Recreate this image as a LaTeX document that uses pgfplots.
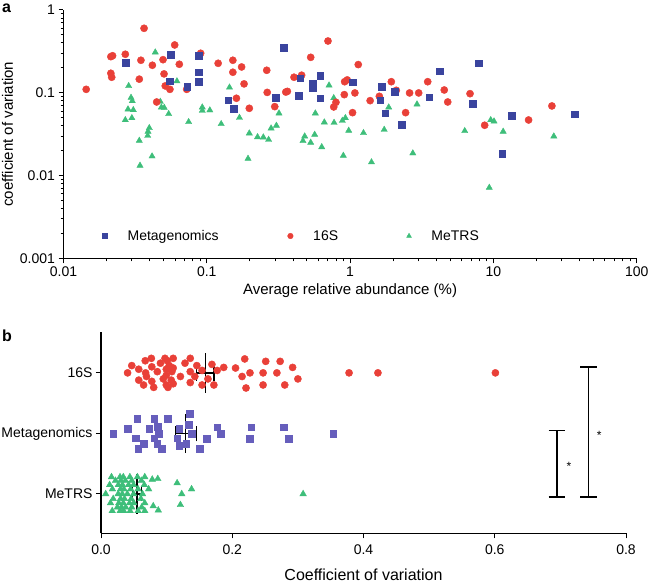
\documentclass[border=0pt]{standalone}
\usepackage{pgfplots}
\pgfplotsset{compat=1.18}
\usepackage{fontspec}
\setmainfont{Liberation Sans}
\definecolor{cblue}{RGB}{58,68,158}
\definecolor{cred}{RGB}{233,64,56}
\definecolor{cgreen}{RGB}{62,190,122}
\definecolor{cpurple}{RGB}{102,94,188}
\newcommand{\fs}{\fontsize{14bp}{16.8bp}\selectfont}
\newcommand{\fl}{\fontsize{15bp}{18bp}\selectfont}
\pgfplotsset{
  myaxis/.style={
    scale only axis,
    axis lines*=left,
    axis line style={line width=1.2bp, black},
    tick style={line width=1bp, black},
    tick align=outside,
    major tick length=5bp, minor tick length=3bp,
    tick label style={font=\fs},
    label style={font=\fl},
    clip=false,
  }
}
\begin{document}
\begin{tikzpicture}[font=\fs]
\useasboundingbox (0,0) rectangle (648bp,584bp);
\node[anchor=base west, font=\fontsize{16bp}{18bp}\selectfont\bfseries, inner sep=0pt] at (2bp,571bp) {a};
\node[anchor=base west, font=\fontsize{16bp}{18bp}\selectfont\bfseries, inner sep=0pt] at (2bp,242bp) {b};
\begin{axis}[myaxis,
  at={(63.5bp,325.7bp)}, anchor=south west,
  width=573.2bp, height=248.3bp,
  xmode=log, ymode=log,
  xmin=0.01, xmax=100, ymin=0.001, ymax=1,
  xtick={0.01,0.1,1,10,100}, xticklabels={0.01,0.1,1,10,100},
  ytick={0.001,0.01,0.1,1}, yticklabels={0.001,0.01,0.1,1},
  minor xtick={0.02,0.03,0.04,0.05,0.06,0.07,0.08,0.09,0.2,0.3,0.4,0.5,0.6,0.7,0.8,0.9,2,3,4,5,6,7,8,9,20,30,40,50,60,70,80,90},
  minor ytick={0.002,0.003,0.004,0.005,0.006,0.007,0.008,0.009,0.02,0.03,0.04,0.05,0.06,0.07,0.08,0.09,0.2,0.3,0.4,0.5,0.6,0.7,0.8,0.9},
  xlabel={Average relative abundance (\%)},
  ylabel={coefficient of variation},
  legend image code/.code={\draw[#1] plot coordinates {(0bp,0bp)};},
  legend style={at={(0.0679,0.0898)}, anchor=west, draw=none, fill=none,
    inner sep=0pt, outer sep=0pt, legend columns=3, font=\fs,
    nodes={inner sep=0pt}, cells={anchor=west},
    /tikz/every odd column/.append style={column sep=20bp}},
]
\addplot[only marks, mark=triangle*, mark size=3.6bp, color=cgreen, forget plot] coordinates {
(0.0285,0.121)(0.0296,0.0873)(0.0302,0.0796)(0.0282,0.0632)(0.0307,0.0620)(0.0270,0.0469)(0.0300,0.0496)(0.0437,0.308)(0.0397,0.0376)(0.0389,0.0340)(0.0387,0.0303)(0.0338,0.0264)(0.0415,0.0171)(0.0342,0.0132)(0.0474,0.0781)(0.0482,0.0667)(0.0505,0.0660)(0.0542,0.0555)(0.0619,0.138)(0.0747,0.0444)(0.0930,0.0667)(0.0930,0.0608)(0.105,0.0615)(0.126,0.0420)(0.144,0.116)(0.169,0.0500)(0.198,0.0324)(0.194,0.0160)(0.226,0.0292)(0.248,0.0290)(0.270,0.0271)(0.281,0.0372)(0.306,0.0401)(0.319,0.0565)(0.482,0.0298)(0.469,0.0262)(0.531,0.0250)(0.566,0.0312)(0.572,0.0565)(0.634,0.0221)(0.661,0.0440)(0.713,0.123)(0.769,0.0865)(0.773,0.0435)(0.883,0.0460)(0.927,0.0496)(0.897,0.0174)(0.978,0.0349)(1.24,0.0327)(1.41,0.0145)(1.73,0.0358)(1.86,0.0667)(2.74,0.0186)(2.93,0.0726)(6.31,0.0346)(9.58,0.0469)(10.1,0.0452)(11.7,0.0340)(9.36,0.00714)(26.4,0.0298)
};
\addplot[only marks, mark=*, mark size=3.6bp, color=cred, forget plot] coordinates {
(0.0144,0.110)(0.0214,0.273)(0.0220,0.280)(0.0214,0.172)(0.0217,0.154)(0.0270,0.292)(0.0338,0.146)(0.0347,0.247)(0.0365,0.601)(0.0417,0.215)(0.0447,0.0774)(0.0495,0.251)(0.0503,0.169)(0.0513,0.121)(0.0553,0.110)(0.0597,0.378)(0.0643,0.221)(0.0724,0.110)(0.0906,0.300)(0.120,0.227)(0.152,0.247)(0.152,0.177)(0.161,0.0858)(0.175,0.205)(0.182,0.128)(0.198,0.0649)(0.262,0.187)(0.264,0.101)(0.298,0.0680)(0.356,0.102)(0.365,0.104)(0.406,0.154)(0.459,0.163)(0.531,0.268)(0.701,0.422)(1.14,0.219)(0.916,0.136)(0.955,0.143)(0.911,0.0949)(1.08,0.0995)(0.797,0.0767)(0.769,0.0674)(1.04,0.0575)(1.38,0.0803)(1.60,0.0906)(1.94,0.136)(2.10,0.107)(2.60,0.0995)(3.01,0.0995)(2.44,0.0575)(3.48,0.136)(4.54,0.108)(4.80,0.0774)(6.87,0.0975)(8.69,0.0405)(17.6,0.0469)(25.6,0.0693)
};
\addplot[only marks, mark=square*, mark size=3.4bp, color=cblue, forget plot] coordinates {
(0.0272,0.229)(0.0562,0.286)(0.0553,0.138)(0.0731,0.119)(0.0873,0.278)(0.0883,0.177)(0.0873,0.135)(0.141,0.0811)(0.155,0.0649)(0.301,0.0865)(0.346,0.354)(0.449,0.150)(0.438,0.0923)(0.548,0.130)(0.550,0.116)(0.619,0.161)(0.619,0.0858)(1.04,0.134)(1.66,0.119)(2.05,0.102)(1.62,0.0811)(1.76,0.0565)(2.29,0.0408)(3.56,0.0882)(4.22,0.182)(7.89,0.227)(7.21,0.0733)(13.5,0.0525)(11.5,0.0184)(37.1,0.0550)
};
\addlegendimage{only marks, mark=square*, mark size=2.6bp, color=cblue}
\addlegendentry[text width=160bp]{Metagenomics}
\addlegendimage{only marks, mark=*, mark size=2.8bp, color=cred}
\addlegendentry[text width=93.4bp]{16S}
\addlegendimage{only marks, mark=triangle*, mark size=2.8bp, color=cgreen}
\addlegendentry{MeTRS}
\end{axis}

\begin{axis}[myaxis,
  at={(101bp,50.7bp)}, anchor=south west,
  width=525bp, height=201.6bp,
  xmin=0, xmax=0.8, ymin=-0.65, ymax=2.68,
  xtick={0,0.2,0.4,0.6,0.8}, xticklabels={0.0,0.2,0.4,0.6,0.8},
  ytick={0,1,2}, yticklabels={MeTRS,Metagenomics,16S},
  xticklabel style={yshift=-3bp},
  xlabel={Coefficient of variation},
  xlabel style={font=\fontsize{16bp}{19bp}\selectfont, yshift=-7bp},
]
\addplot[only marks, mark=triangle*, mark size=3.8bp, color=cgreen] coordinates {
(0.00714,0)(0.0132,0.15)(0.0145,-0.15)(0.0160,0.28)(0.0171,-0.28)(0.0174,0.08)(0.0186,-0.08)(0.0221,0.22)(0.0250,-0.22)(0.0262,0)(0.0264,0.15)(0.0271,-0.15)(0.0290,0.28)(0.0292,-0.28)(0.0298,0.08)(0.0298,-0.08)(0.0303,0.22)(0.0312,-0.22)(0.0324,0)(0.0327,0.15)(0.0340,-0.15)(0.0340,0.28)(0.0346,-0.28)(0.0349,0.08)(0.0358,-0.08)(0.0372,0.22)(0.0376,-0.22)(0.0401,0)(0.0420,0.15)(0.0435,-0.15)(0.0440,0.28)(0.0444,-0.28)(0.0452,0.08)(0.0460,-0.08)(0.0469,0.22)(0.0469,-0.22)(0.0496,0)(0.0496,0.15)(0.0500,-0.15)(0.0555,0.28)(0.0565,-0.28)(0.0565,0.08)(0.0608,-0.08)(0.0615,0.22)(0.0620,-0.22)(0.0632,0)(0.0660,0.15)(0.0667,-0.15)(0.0667,0.28)(0.0667,-0.28)(0.0726,0.08)(0.0781,0.24)(0.0796,-0.2)(0.0865,0.25)(0.0873,-0.27)(0.116,0.18)(0.121,-0.18)(0.123,0)(0.138,0.08)(0.308,0)
};
\addplot[only marks, mark=square*, mark size=3.3bp, color=cpurple] coordinates {
(0.0184,1)(0.0408,1.08)(0.0525,0.92)(0.0550,1.24)(0.0565,0.75)(0.0649,0.83)(0.0733,1.08)(0.0811,1.24)(0.0811,0.92)(0.0858,0.83)(0.0865,1.11)(0.0882,1)(0.0923,0.75)(0.102,1.24)(0.116,0.92)(0.119,1.08)(0.119,0.8)(0.130,0.83)(0.134,1.14)(0.135,1.33)(0.138,1)(0.150,0.75)(0.161,0.91)(0.177,1.1)(0.182,1)(0.227,0.91)(0.229,1.1)(0.278,1.1)(0.286,0.91)(0.354,1)
};
\addplot[only marks, mark=*, mark size=3.6bp, color=cred] coordinates {
(0.0405,2)(0.0469,2.12)(0.0575,1.88)(0.0575,2.06)(0.0649,1.8)(0.0674,2.2)(0.0680,2)(0.0693,1.94)(0.0767,2.24)(0.0774,1.86)(0.0774,2.1)(0.0803,1.76)(0.0858,2.02)(0.0906,2.16)(0.0949,1.9)(0.0975,2.24)(0.0995,1.8)(0.0995,2.06)(0.0995,1.96)(0.101,2.2)(0.102,1.76)(0.104,2.12)(0.107,1.88)(0.108,2.02)(0.110,2.24)(0.110,1.82)(0.110,2.08)(0.121,1.94)(0.128,2.16)(0.136,1.84)(0.136,2.02)(0.136,2.24)(0.143,1.94)(0.146,2.12)(0.154,1.8)(0.154,2.04)(0.163,1.9)(0.169,2.14)(0.172,1.8)(0.177,2.04)(0.187,2.09)(0.205,2.08)(0.215,1.94)(0.219,2.23)(0.221,1.75)(0.227,2)(0.247,2)(0.247,1.8)(0.251,2.19)(0.268,2)(0.273,2.19)(0.280,1.8)(0.292,2.09)(0.300,1.9)(0.378,2)(0.422,2)(0.601,2)
};
% mean and SEM
\addplot[black, line width=1.3bp] coordinates {(0.159,1.67)(0.159,2.33)};
\addplot[black, line width=1.3bp] coordinates {(0.146,2)(0.172,2)};
\addplot[black, line width=1.3bp] coordinates {(0.146,1.87)(0.146,2.13)};
\addplot[black, line width=1.3bp] coordinates {(0.172,1.87)(0.172,2.13)};
\addplot[black, line width=1.3bp] coordinates {(0.129,0.68)(0.129,1.32)};
\addplot[black, line width=1.3bp] coordinates {(0.114,1)(0.145,1)};
\addplot[black, line width=1.3bp] coordinates {(0.114,0.87)(0.114,1.13)};
\addplot[black, line width=1.3bp] coordinates {(0.145,0.87)(0.145,1.13)};
\addplot[black, line width=1.3bp] coordinates {(0.055,-0.33)(0.055,0.33)};
\addplot[black, line width=1.3bp] coordinates {(0.048,0)(0.062,0)};
\addplot[black, line width=1.3bp] coordinates {(0.048,-0.12)(0.048,0.12)};
\addplot[black, line width=1.3bp] coordinates {(0.062,-0.12)(0.062,0.12)};
% significance brackets
\addplot[black, line width=1.3bp] coordinates {(0.682,1.05)(0.707,1.05)};
\addplot[black, line width=1.3bp] coordinates {(0.695,1.05)(0.695,-0.05)};
\addplot[black, line width=1.3bp] coordinates {(0.682,-0.05)(0.707,-0.05)};
\addplot[black, line width=1.3bp] coordinates {(0.730,2.095)(0.756,2.095)};
\addplot[black, line width=1.3bp] coordinates {(0.743,2.095)(0.743,-0.05)};
\addplot[black, line width=1.3bp] coordinates {(0.730,-0.05)(0.756,-0.05)};
\node[font=\fontsize{12bp}{13bp}\selectfont, yshift=-2bp] at (axis cs:0.713,0.49) {*};
\node[font=\fontsize{12bp}{13bp}\selectfont, yshift=-2bp] at (axis cs:0.759,1.0) {*};
\end{axis}
\end{tikzpicture}
\end{document}
